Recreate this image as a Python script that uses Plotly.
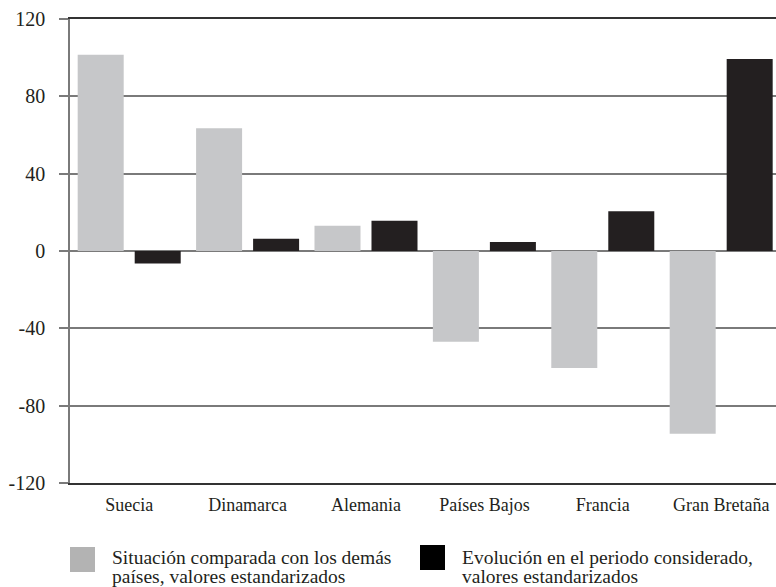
import plotly.graph_objects as go

categories = ["Suecia", "Dinamarca", "Alemania", "Países Bajos", "Francia", "Gran Bretaña"]
situacion = [101.5, 63.5, 13.0, -47.0, -60.5, -94.5]
evolucion = [-6.5, 6.3, 15.7, 4.7, 20.5, 99.3]
y_ticks = [-120, -80, -40, 0, 40, 80, 120]
legend_labels = [
    ("Situación comparada con los demás", "países, valores estandarizados"),
    ("Evolución en el periodo considerado,", "valores estandarizados"),
]

FONT = "Liberation Serif"
GRAY = "#c6c7c9"
BLACK = "#231f20"

W, H = 776, 587
ML, MR, MT, MB = 70, 0, 19, 104
PW, PH = W - ML - MR, H - MT - MB


def px_x(px):
    return (px - ML) / PW


def px_y(py):
    return (H - MB - py) / PH


fig = go.Figure()
fig.add_trace(go.Bar(x=categories, y=situacion, marker=dict(color=GRAY, line=dict(width=0)),
                     name=" ".join(legend_labels[0]), showlegend=False))
fig.add_trace(go.Bar(x=categories, y=evolucion, marker=dict(color=BLACK, line=dict(width=0)),
                     name=" ".join(legend_labels[1]), showlegend=False))

# legend drawn manually (large squares, two-line labels)
legend_items = [
    dict(sq=(70, 547), color="#b3b3b3", tx=110, labels=legend_labels[0]),
    dict(sq=(420, 545), color="#000000", tx=460, labels=legend_labels[1]),
]
shapes = []
annotations = []
for it in legend_items:
    x0, y0 = it["sq"]
    shapes.append(dict(type="rect", xref="paper", yref="paper",
                       x0=px_x(x0), x1=px_x(x0 + 25), y0=px_y(y0), y1=px_y(y0 + 25),
                       fillcolor=it["color"], line=dict(width=0)))
    for i, line in enumerate(it["labels"]):
        annotations.append(dict(text=line, xref="paper", yref="paper",
                                x=px_x(it["tx"]), y=px_y(557 + 19 * i),
                                xanchor="left", yanchor="middle", showarrow=False,
                                font=dict(family=FONT, size=19.5, color="#231f20")))

fig.update_layout(
    width=W, height=H,
    margin=dict(l=ML, r=MR, t=MT, b=MB),
    paper_bgcolor="white", plot_bgcolor="white",
    barmode="group", bargap=0.037, bargroupgap=0.193,
    font=dict(family=FONT, size=18, color="#231f20"),
    showlegend=False,
    shapes=shapes,
    annotations=annotations,
    xaxis=dict(range=[-0.5, 5.463], showgrid=False, showline=True, linecolor="#333333",
               linewidth=1.5, mirror=True, ticks="", ticklabelstandoff=5,
               tickfont=dict(family=FONT, size=18, color="#231f20")),
    yaxis=dict(range=[-120, 120], tickvals=y_ticks, ticktext=[str(v) for v in y_ticks],
               showgrid=True, gridcolor="#7a7a7a", gridwidth=1.5,
               zeroline=True, zerolinecolor="#7a7a7a", zerolinewidth=1.5,
               showline=True, linecolor="#7a7a7a", linewidth=1.5,
               ticks="outside", ticklen=9, tickcolor="#7a7a7a", tickwidth=1.5,
               ticklabelstandoff=10,
               tickfont=dict(family=FONT, size=20, color="#231f20")),
)

fig.write_html("out.html", config={"displayModeBar": False},
               post_script="document.body.style.margin='0';document.body.style.overflow='hidden';")
